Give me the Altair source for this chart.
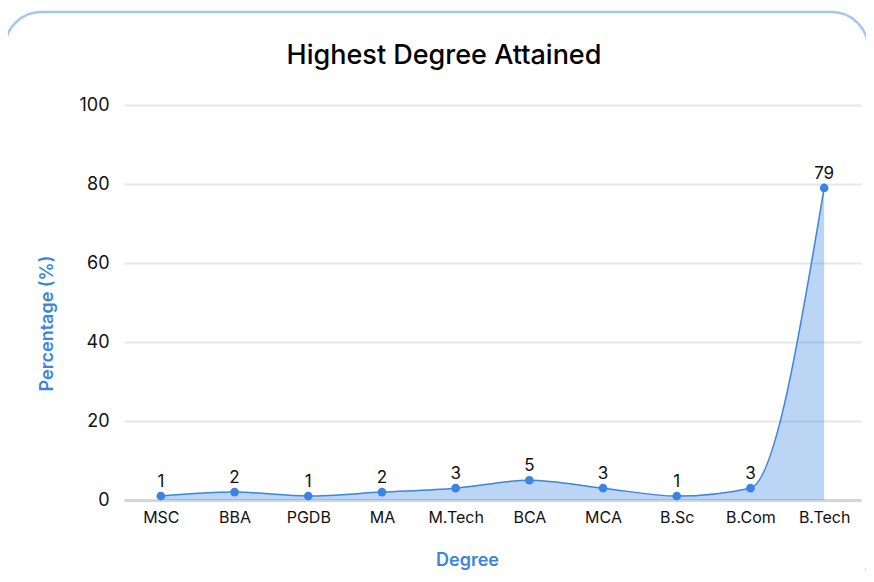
import altair as alt
import pandas as pd

degrees = ["MSC", "BBA", "PGDB", "MA", "M.Tech", "BCA", "MCA", "B.Sc", "B.Com", "B.Tech"]
percentages = [1, 2, 1, 2, 3, 5, 3, 1, 3, 79]
y_ticks = [0, 20, 40, 60, 80, 100]
title_text = "Highest Degree Attained"

BLUE = "#3b84e0"
FONT = "Inter"

df = pd.DataFrame({"Degree": degrees, "Percentage": percentages})

x_enc = alt.X(
    "Degree:N",
    sort=degrees,
    scale=alt.Scale(type="point", padding=0.5),
    axis=alt.Axis(
        title="Degree",
        labelAngle=0,
        labelFontSize=16,
        labelColor="#111111",
        labelFont=FONT,
        labelPadding=9,
        ticks=False,
        domainColor="#c9d7ea",
        domainWidth=3,
        grid=False,
        titleColor=BLUE,
        titleFontSize=18,
        titleFont=FONT,
        titleFontWeight=600,
        titlePadding=26,
        titleX=343,
    ),
)
y_enc = alt.Y(
    "Percentage:Q",
    scale=alt.Scale(domain=[0, 100], nice=False),
    axis=alt.Axis(
        title="Percentage (%)",
        values=y_ticks,
        labelFontSize=18,
        labelColor="#111111",
        labelFont=FONT,
        labelPadding=15,
        ticks=False,
        domain=False,
        gridColor="#e6e6e6",
        gridWidth=2,
        titleColor=BLUE,
        titleFontSize=18,
        titleFont=FONT,
        titleFontWeight=600,
        titlePadding=22,
        titleY=218,
    ),
)

base = alt.Chart(df)

area = base.mark_area(interpolate="monotone", color=BLUE, fillOpacity=0.34).encode(x=x_enc, y=y_enc)
line = base.mark_line(interpolate="monotone", color=BLUE, strokeWidth=1.5).encode(x=x_enc, y=y_enc)
points = base.mark_circle(color=BLUE, size=75, opacity=1).encode(x=x_enc, y=y_enc)
labels = base.mark_text(dy=-14, fontSize=17, font=FONT, color="#111111").encode(
    x=x_enc, y=y_enc, text="Percentage:Q"
)

frame_df = pd.DataFrame({"a": [0]})
border = alt.Chart(frame_df).mark_rect(
    fillOpacity=0, stroke="#a4c6f0", strokeWidth=2.5, cornerRadius=36
).encode(x=alt.value(-119), x2=alt.value(744), y=alt.value(-93), y2=alt.value(490))

title = alt.Chart(pd.DataFrame({"t": [title_text]})).mark_text(
    fontSize=27, font=FONT, fontWeight=500, color="#000000", baseline="middle", align="center",
).encode(x=alt.value(320), y=alt.value(-49), text="t:N")

chart = (
    alt.layer(border, area, line, points, labels, title)
    .properties(
        width=737,
        height=395,
        padding={"left": 116, "top": 97, "right": 5, "bottom": 70},
        autosize=alt.AutoSizeParams(type="none"),
        background="white",
    )
    .configure_view(stroke=None)
)

chart.save("out.html", embed_options={"renderer": "svg", "actions": False})
